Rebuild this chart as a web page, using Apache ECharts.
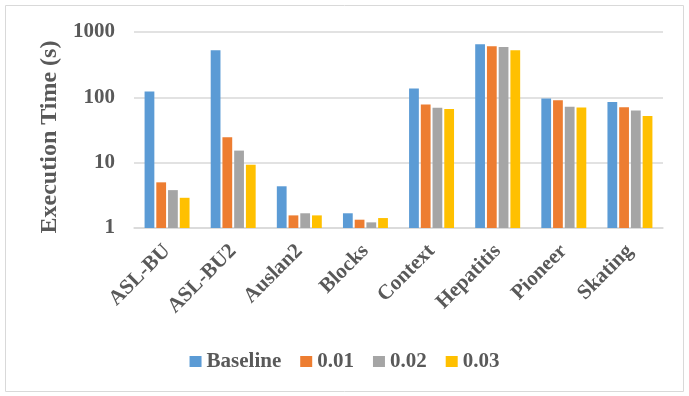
<!DOCTYPE html>
<html>
<head>
<meta charset="utf-8">
<script src="https://cdn.jsdelivr.net/npm/echarts@6/dist/echarts.min.js"></script>
<style>
  html, body { margin: 0; padding: 0; background: #fff; }
  #chart { width: 689px; height: 396px; }
</style>
</head>
<body>
<div id="chart"></div>
<script>
const categories = ['ASL-BU', 'ASL-BU2', 'Auslan2', 'Blocks', 'Context', 'Hepatitis', 'Pioneer', 'Skating']
const seriesNames = ['Baseline', '0.01', '0.02', '0.03']
const baseline = [123, 526, 4.35, 1.68, 136, 650, 96, 85]
const t001 = [5.0, 24.5, 1.56, 1.34, 78, 606, 90, 70.5]
const t002 = [3.8, 15.3, 1.68, 1.22, 69, 591, 72, 63]
const t003 = [2.9, 9.3, 1.56, 1.42, 66, 526, 70, 52]
const colors = ['#5B9BD5', '#ED7D31', '#A5A5A5', '#FFC000']

const font = 'Liberation Serif'
const textColor = '#595959'
const gridColor = '#d9d9d9'

const chart = echarts.init(document.getElementById('chart'))

const values = [baseline, t001, t002, t003]

chart.setOption({
  animation: false,
  color: colors,
  textStyle: { fontFamily: font },
  graphic: [{
    type: 'rect',
    shape: { x: 5.5, y: 5.5, width: 678, height: 386 },
    style: { fill: 'none', stroke: gridColor, lineWidth: 1 },
    silent: true,
  }],
  grid: { left: 134, right: 26, top: 32, bottom: 168 },
  legend: {
    left: 'center',
    top: 346,
    itemWidth: 12,
    itemHeight: 11,
    itemGap: 19,
    icon: 'rect',
    textStyle: { fontFamily: font, fontWeight: 'bold', fontSize: 21, color: textColor },
    data: seriesNames,
  },
  xAxis: {
    type: 'category',
    data: categories,
    axisLine: { lineStyle: { color: gridColor, width: 1.5 } },
    axisTick: { show: false },
    axisLabel: {
      rotate: 45,
      margin: 20,
      interval: 0,
      fontFamily: font,
      fontWeight: 'bold',
      fontSize: 21,
      color: textColor,
    },
  },
  yAxis: {
    type: 'log',
    logBase: 10,
    min: 1,
    max: 1000,
    name: 'Execution Time (s)',
    nameLocation: 'middle',
    nameGap: 60,
    nameTextStyle: {
      fontFamily: font,
      fontWeight: 'bold',
      fontSize: 24,
      color: textColor,
      padding: [0, 14, 0, 0],
    },
    axisLine: { show: false },
    axisTick: { show: false },
    axisLabel: {
      margin: 19,
      fontFamily: font,
      fontWeight: 'bold',
      fontSize: 21,
      color: textColor,
      formatter: v => String(Math.round(v)),
    },
    splitLine: { lineStyle: { color: gridColor, width: 1.5 } },
  },
  series: seriesNames.map((name, i) => ({
    name,
    type: 'bar',
    data: values[i],
    barGap: '20%',
    barCategoryGap: '32%',
    itemStyle: { color: colors[i] },
  })),
})
</script>
</body>
</html>
